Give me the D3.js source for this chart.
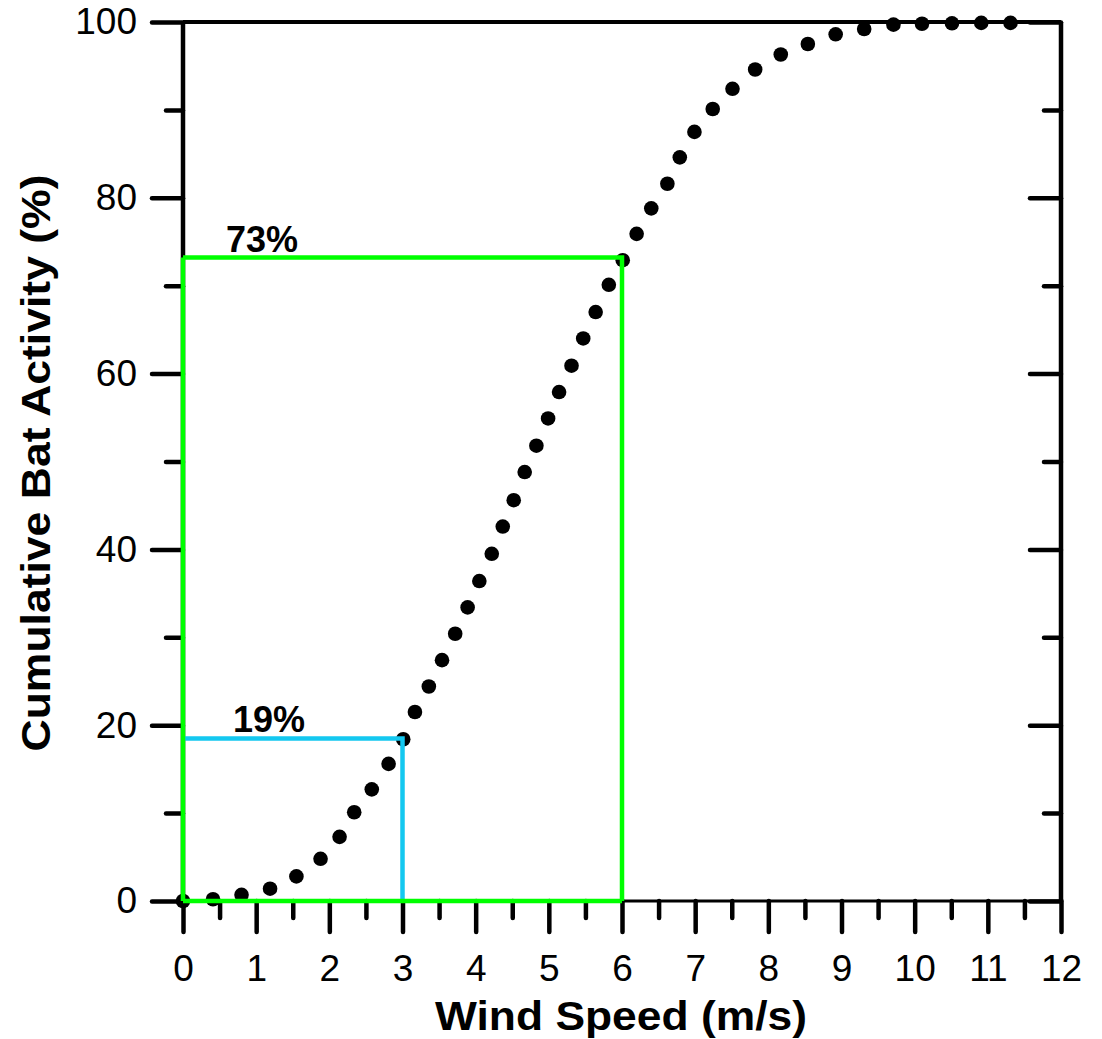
<!DOCTYPE html>
<html>
<head>
<meta charset="utf-8">
<script src="https://cdn.jsdelivr.net/npm/d3@7"></script>
<style>
  body { margin: 0; background: #fff; }
  svg { display: block; font-family: "Liberation Sans", Arial, sans-serif; }
</style>
</head>
<body>
<div id="chart"></div>
<script>
// wind speed (m/s) and cumulative bat activity (%)
const windSpeed = [0, 0.41, 0.80, 1.19, 1.55, 1.88, 2.14, 2.34, 2.58, 2.81, 3.01,
  3.17, 3.36, 3.54, 3.72, 3.89, 4.05, 4.22, 4.37, 4.52, 4.67, 4.83, 4.99, 5.14,
  5.31, 5.47, 5.64, 5.82, 6.01, 6.20, 6.40, 6.62, 6.79, 6.99, 7.24, 7.51, 7.82,
  8.17, 8.54, 8.92, 9.31, 9.71, 10.10, 10.51, 10.91, 11.31];
const activity = [0, 0.2, 0.7, 1.4, 2.8, 4.8, 7.3, 10.1, 12.7, 15.6, 18.4,
  21.5, 24.4, 27.4, 30.4, 33.4, 36.4, 39.5, 42.6, 45.6, 48.8, 51.8, 54.9, 57.9,
  60.9, 64.0, 67.0, 70.1, 72.9, 75.9, 78.8, 81.6, 84.6, 87.5, 90.1, 92.4, 94.6,
  96.3, 97.5, 98.6, 99.2, 99.7, 99.8, 99.85, 99.9, 99.9];

const xMajor = [0, 1, 2, 3, 4, 5, 6, 7, 8, 9, 10, 11, 12];
const xMinor = [0.5, 1.5, 2.5, 3.5, 4.5, 5.5, 6.5, 7.5, 8.5, 9.5, 10.5, 11.5];
const yMajor = [0, 20, 40, 60, 80, 100];
const yMinor = [10, 30, 50, 70, 90];

// threshold boxes: [wind speed, activity, label]
const boxes = [
  { ws: 3, act: 18.5, label: "19%", color: "#14c8f0" },
  { ws: 6, act: 73.2, label: "73%", color: "#00ff00" }
];

const W = 1102, H = 1039;
const x = d3.scaleLinear().domain([0, 12]).range([183, 1061]);
const y = d3.scaleLinear().domain([0, 100]).range([901, 22]);

const svg = d3.select("#chart").append("svg")
  .attr("width", W).attr("height", H);

function styleTicks(g) {
  g.select(".domain").remove();
  g.selectAll(".tick line")
    .attr("stroke", "#000")
    .attr("stroke-width", 4.5)
    .attr("stroke-linecap", "round");
  g.selectAll(".tick text")
    .attr("fill", "#000")
    .style("font-size", "37px");
}

// frame lines
svg.append("line").attr("x1", x(0)).attr("x2", x(12)).attr("y1", y(100)).attr("y2", y(100))
  .attr("stroke", "#000").attr("stroke-width", 4);
svg.append("line").attr("x1", x(0)).attr("x2", x(12)).attr("y1", y(0)).attr("y2", y(0))
  .attr("stroke", "#000").attr("stroke-width", 3);
svg.append("line").attr("x1", x(0)).attr("x2", x(0)).attr("y1", y(100)).attr("y2", y(0))
  .attr("stroke", "#000").attr("stroke-width", 4.5);
svg.append("line").attr("x1", x(12)).attr("x2", x(12)).attr("y1", y(100)).attr("y2", y(0))
  .attr("stroke", "#000").attr("stroke-width", 4.5);

// left axis
svg.append("g").attr("transform", `translate(${x(0)},0)`)
  .call(d3.axisLeft(y).tickValues(yMajor).tickSize(31).tickPadding(15))
  .call(styleTicks);
svg.append("g").attr("transform", `translate(${x(0)},0)`)
  .call(d3.axisLeft(y).tickValues(yMinor).tickSize(17).tickFormat(""))
  .call(styleTicks);

// right axis, ticks pointing inward
svg.append("g").attr("transform", `translate(${x(12)},0)`)
  .call(d3.axisLeft(y).tickValues(yMajor).tickSize(31).tickFormat(""))
  .call(styleTicks);
svg.append("g").attr("transform", `translate(${x(12)},0)`)
  .call(d3.axisLeft(y).tickValues(yMinor).tickSize(17).tickFormat(""))
  .call(styleTicks);

// bottom axis
svg.append("g").attr("transform", `translate(0,${y(0)})`)
  .call(d3.axisBottom(x).tickValues(xMajor).tickSize(31).tickPadding(23))
  .call(styleTicks);
svg.append("g").attr("transform", `translate(0,${y(0)})`)
  .call(d3.axisBottom(x).tickValues(xMinor).tickSize(17).tickFormat(""))
  .call(styleTicks);

// dots
svg.append("g").selectAll("circle")
  .data(windSpeed.map((d, i) => [d, activity[i]]))
  .enter().append("circle")
  .attr("cx", d => x(d[0]))
  .attr("cy", d => y(d[1]))
  .attr("r", 7.3)
  .attr("fill", "#000");

// threshold boxes
boxes.forEach(b => {
  svg.append("path")
    .attr("d", `M${x(0)},${y(b.act)}H${x(b.ws)}V${y(0)}`)
    .attr("fill", "none")
    .attr("stroke", b.color)
    .attr("stroke-width", 4.5);
});
const green = boxes[1];
svg.append("path")
  .attr("d", `M${x(0)},${y(0)}V${y(green.act)}M${x(0)},${y(0)}H${x(green.ws)}`)
  .attr("fill", "none")
  .attr("stroke", green.color)
  .attr("stroke-width", 4.5);

svg.selectAll(".boxlabel")
  .data(boxes)
  .enter().append("text")
  .attr("class", "boxlabel")
  .attr("x", d => d.ws === 3 ? 233 : 226)
  .attr("y", d => y(d.act) - 6)
  .style("font-size", "36px")
  .style("font-weight", "bold")
  .text(d => d.label);

// axis titles
svg.append("text")
  .attr("x", 621).attr("y", 1030)
  .attr("text-anchor", "middle")
  .attr("textLength", 372).attr("lengthAdjust", "spacingAndGlyphs")
  .style("font-size", "40px").style("font-weight", "bold")
  .text("Wind Speed (m/s)");

svg.append("text")
  .attr("transform", "translate(50,463) rotate(-90)")
  .attr("text-anchor", "middle")
  .attr("textLength", 577).attr("lengthAdjust", "spacingAndGlyphs")
  .style("font-size", "40px").style("font-weight", "bold")
  .text("Cumulative Bat Activity (%)");
</script>
</body>
</html>
